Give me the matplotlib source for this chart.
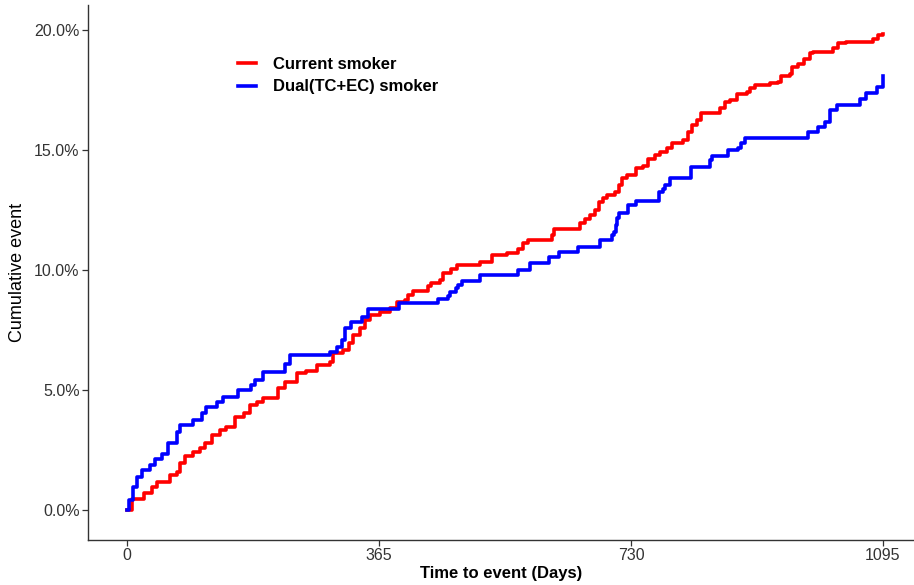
import numpy as np
import matplotlib
matplotlib.use("Agg")
import matplotlib.pyplot as plt
from matplotlib.ticker import FuncFormatter

plt.rcParams['font.family'] = ['Liberation Sans', 'DejaVu Sans']

# cumulative event (%) at each event day
days_current = [0, 7, 24, 36, 43, 62, 72, 77, 84, 96,
                106, 113, 123, 135, 144, 156, 169, 178, 188, 197,
                219, 229, 246, 260, 275, 294, 299, 313, 321, 328,
                338, 345, 352, 367, 381, 391, 403, 407, 415, 436,
                441, 453, 458, 470, 478, 511, 528, 550, 567, 574,
                581, 615, 618, 656, 663, 671, 678, 683, 690, 695,
                707, 712, 717, 724, 738, 748, 755, 765, 772, 782,
                789, 806, 813, 818, 825, 832, 859, 866, 873, 883,
                898, 902, 910, 931, 943, 948, 960, 963, 972, 980,
                989, 994, 1023, 1030, 1042, 1081, 1088, 1095]
cum_current = [0, 0.45, 0.7, 0.97, 1.18, 1.46, 1.6, 1.95, 2.25, 2.43,
               2.57, 2.78, 3.13, 3.33, 3.47, 3.89, 4.03, 4.38, 4.51, 4.65,
               5.07, 5.35, 5.7, 5.8, 6.04, 6.18, 6.53, 6.67, 6.95, 7.29,
               7.57, 7.92, 8.13, 8.26, 8.44, 8.68, 8.75, 8.96, 9.14, 9.33,
               9.47, 9.58, 9.86, 10.03, 10.2, 10.35, 10.63, 10.7, 10.9, 11.11,
               11.25, 11.46, 11.7, 11.97, 12.15, 12.3, 12.5, 12.85, 12.99, 13.13,
               13.26, 13.54, 13.82, 13.96, 14.24, 14.33, 14.65, 14.79, 14.93, 15.1,
               15.28, 15.42, 15.76, 16.04, 16.25, 16.53, 16.74, 17.01, 17.11, 17.36,
               17.43, 17.57, 17.71, 17.78, 17.85, 18.08, 18.19, 18.47, 18.6, 18.8,
               19.03, 19.1, 19.24, 19.45, 19.51, 19.65, 19.79, 19.86]

days_dual = [0, 3, 8, 14, 21, 33, 41, 50, 60, 73,
             77, 96, 108, 115, 130, 139, 161, 180, 185, 197,
             229, 236, 294, 304, 311, 316, 325, 340, 349, 394,
             450, 465, 468, 476, 479, 485, 511, 566, 584, 611,
             626, 653, 685, 702, 705, 708, 710, 713, 725, 737,
             770, 776, 779, 787, 817, 844, 848, 870, 885, 890,
             895, 986, 1001, 1011, 1018, 1028, 1062, 1070, 1086, 1095]
cum_dual = [0, 0.42, 0.97, 1.39, 1.67, 1.88, 2.13, 2.33, 2.79, 3.26,
            3.54, 3.75, 4.04, 4.3, 4.5, 4.72, 5.0, 5.2, 5.42, 5.76,
            6.1, 6.46, 6.6, 6.8, 7.08, 7.58, 7.85, 8.05, 8.38, 8.61,
            8.78, 8.92, 9.1, 9.24, 9.38, 9.54, 9.79, 10.0, 10.28, 10.53,
            10.76, 10.97, 11.25, 11.46, 11.6, 11.9, 12.17, 12.4, 12.7, 12.88,
            13.26, 13.4, 13.54, 13.82, 14.3, 14.58, 14.75, 15.0, 15.07, 15.28,
            15.5, 15.76, 15.97, 16.18, 16.67, 16.88, 17.15, 17.4, 17.64, 18.08]

labels = ["Current smoker", "Dual(TC+EC) smoker"]
x_ticks = [0, 365, 730, 1095]
y_ticks = [0, 5, 10, 15, 20]

fig = plt.figure(figsize=(9.14, 5.85), dpi=100)
ax = fig.add_axes([88 / 914, 45 / 585, 826 / 914, 535 / 585])

ax.step(days_current, cum_current, where="post", color="#FF0000", lw=2.6, label=labels[0])
ax.step(days_dual, cum_dual, where="post", color="#0000FF", lw=2.6, label=labels[1])

ax.set_xlim(-56.5, 1140)
ax.set_ylim(-1.25, 21.05)
ax.set_xticks(x_ticks)
ax.set_yticks(y_ticks)
ax.yaxis.set_major_formatter(FuncFormatter(lambda v, _: f"{v:.1f}%"))

for side in ["top", "right"]:
    ax.spines[side].set_visible(False)
for side in ["left", "bottom"]:
    ax.spines[side].set_color("#333333")
    ax.spines[side].set_linewidth(1.0)
ax.tick_params(axis="both", length=4, width=0.9, color="#333333",
               labelsize=11.5, labelcolor="#333333", pad=2)

ax.set_xlabel("Time to event (Days)", fontsize=12, fontweight="bold", labelpad=2)
ax.set_ylabel("Cumulative event", fontsize=13, labelpad=6)

leg = ax.legend(loc="upper left", bbox_to_anchor=(0.181, 0.903), frameon=False,
                fontsize=12, handlelength=1.1, handletextpad=1.0,
                labelspacing=0.45, borderpad=0, borderaxespad=0)
for t in leg.get_texts():
    t.set_fontweight("bold")

fig.savefig("out.png", dpi=100)
